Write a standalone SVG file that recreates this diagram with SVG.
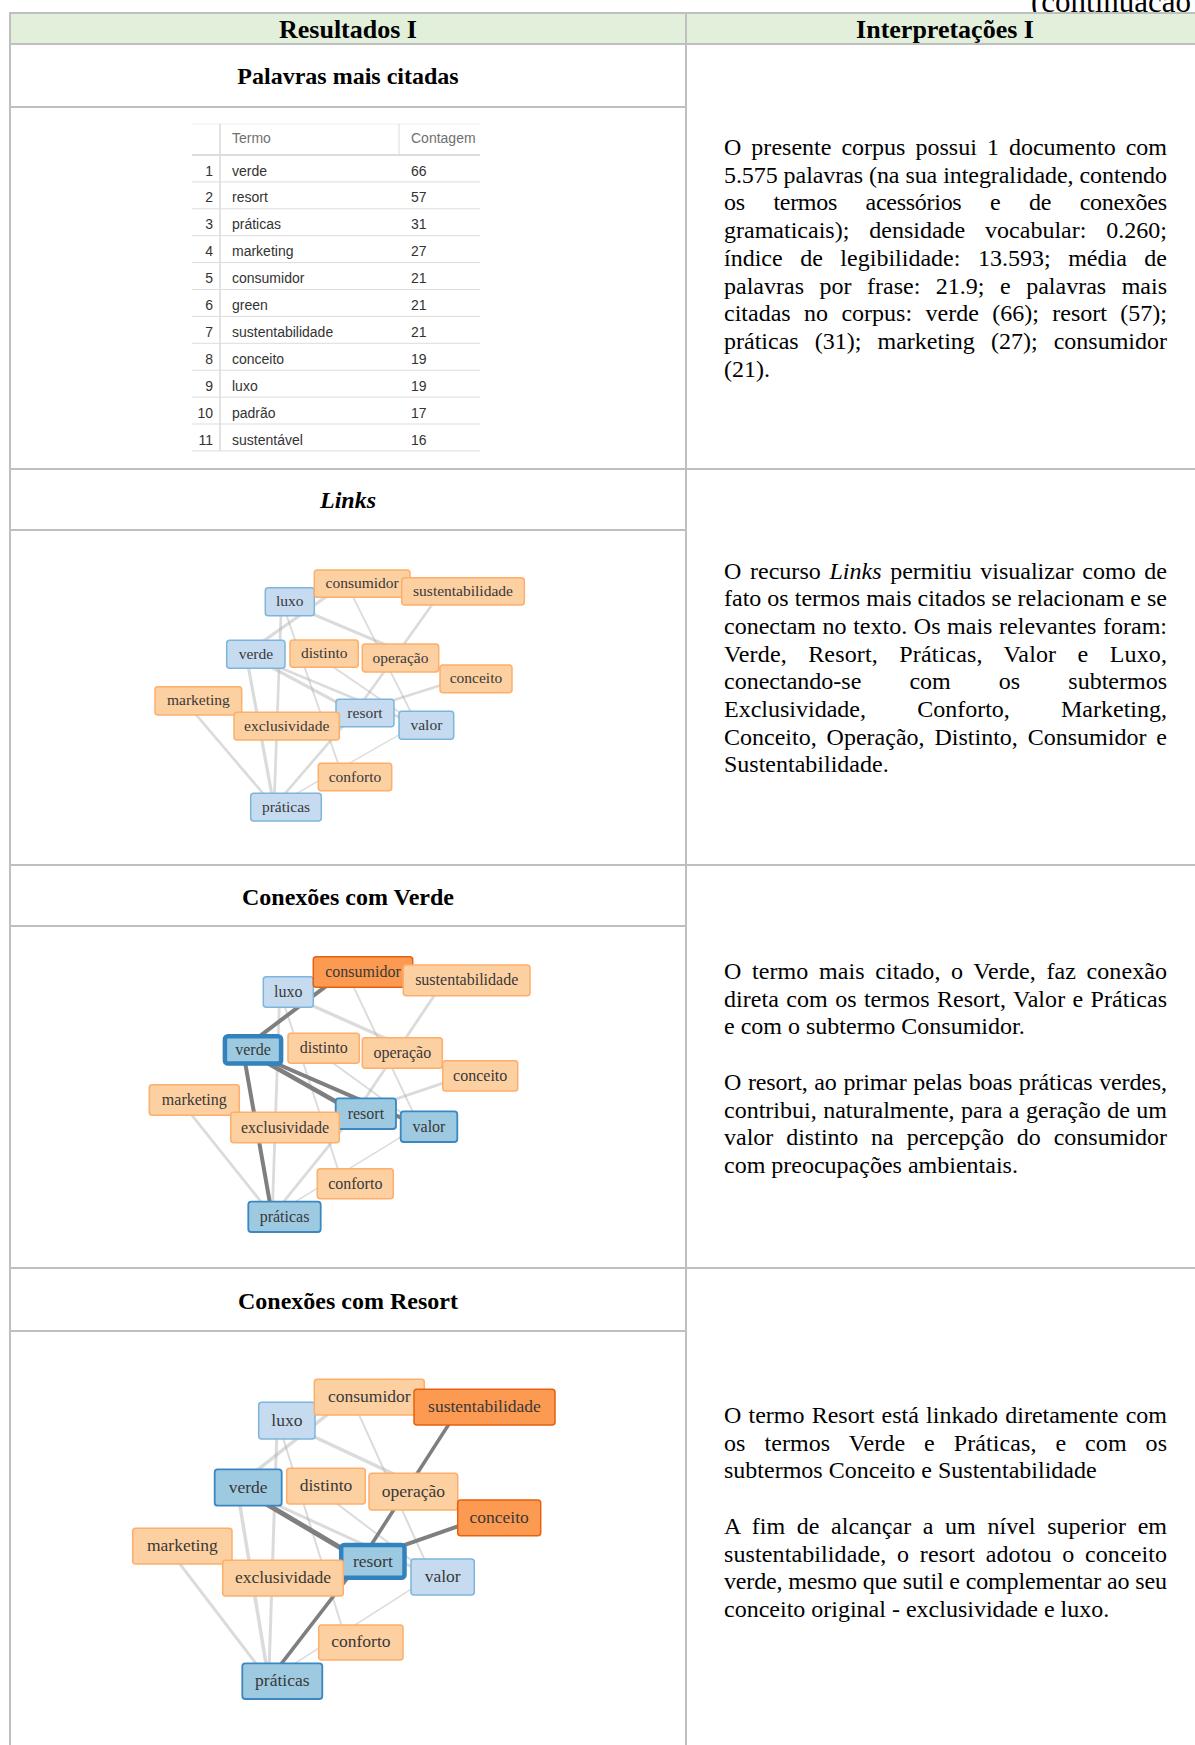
<svg xmlns="http://www.w3.org/2000/svg" width="1195" height="1745" viewBox="0 0 1195 1745">
<style>
.grid{stroke:#bfbfbf;stroke-width:2;fill:none}
.hdr{font-family:"Liberation Serif",serif;font-weight:bold;font-size:26px;text-anchor:middle;fill:#000}
.ttl{font-family:"Liberation Serif",serif;font-weight:bold;font-size:24px;text-anchor:middle;fill:#000}
.para{font-family:"Liberation Serif",serif;font-size:24px;fill:#000}
.tb{font-family:"Liberation Sans",Arial,sans-serif;font-size:14px;fill:#333}
.tbh{font-family:"Liberation Sans",Arial,sans-serif;font-size:14px;fill:#707070}
.tbl{stroke:#dcdcdc;stroke-width:1}
.nd text{font-family:"Liberation Serif",serif;fill:#383838;text-anchor:middle}
.g1 .nd text{font-size:15.5px}
.g2 .nd text{font-size:16px}
.g3 .nd text{font-size:17.5px}
.lb rect{fill:#c6dbef;stroke:#7db6dc;stroke-width:1.5}
.lo rect{fill:#fdd0a2;stroke:#fdae6b;stroke-width:1.5}
.db rect{fill:#9ecae1;stroke:#3a87c2;stroke-width:1.8}
.sel rect{fill:#9ecae1;stroke:#3182bd;stroke-width:4.5}
.do rect{fill:#fd9a52;stroke:#e6600f;stroke-width:1.5}
.el{stroke:#b0b0b0;stroke-opacity:0.45;fill:none;stroke-linecap:round}
.ed{stroke:#7f7f7f;fill:none;stroke-linecap:round}
</style>

<!-- caption -->
<text x="1031" y="12" font-family="Liberation Serif, serif" font-size="31" fill="#000">(continuação)</text>

<!-- table frame -->
<g id="table-frame">
<rect x="10" y="13" width="1194" height="31" fill="#e2efda"/>
<line class="grid" x1="9" y1="13" x2="1205" y2="13"/>
<line class="grid" x1="9" y1="44" x2="1205" y2="44"/>
<line class="grid" x1="10" y1="12" x2="10" y2="1745"/>
<line class="grid" x1="686" y1="12" x2="686" y2="1745"/>
<line class="grid" x1="1204" y1="12" x2="1204" y2="1745"/>
<line class="grid" x1="10" y1="107" x2="686" y2="107"/>
<line class="grid" x1="10" y1="469" x2="1205" y2="469"/>
<line class="grid" x1="10" y1="530" x2="686" y2="530"/>
<line class="grid" x1="10" y1="865" x2="1205" y2="865"/>
<line class="grid" x1="10" y1="926" x2="686" y2="926"/>
<line class="grid" x1="10" y1="1268" x2="1205" y2="1268"/>
<line class="grid" x1="10" y1="1331" x2="686" y2="1331"/>
</g>

<g id="headers">
<text class="hdr" x="348" y="38">Resultados I</text>
<text class="hdr" x="945" y="38">Interpretações I</text>
</g>

<g id="titles">
<text class="ttl" x="348" y="84">Palavras mais citadas</text>
<text class="ttl" x="348" y="508" font-style="italic">Links</text>
<text class="ttl" x="348" y="905">Conexões com Verde</text>
<text class="ttl" x="348" y="1309">Conexões com Resort</text>
</g>

<!-- word frequency table -->
<g id="freq-table">
<line x1="192" y1="124" x2="480" y2="124" stroke="#efefef" stroke-width="1"/>
<line x1="220" y1="124" x2="220" y2="451" stroke="#e3e3e3" stroke-width="2"/>
<line x1="399" y1="124" x2="399" y2="155" stroke="#dcdcdc" stroke-width="1"/>
<line x1="192" y1="155" x2="480" y2="155" stroke="#dcdcdc" stroke-width="2"/>
<text class="tbh" x="232" y="143">Termo</text>
<text class="tbh" x="411" y="143">Contagem</text>
<g class="tbl">
<line x1="192" y1="181.9" x2="480" y2="181.9"/>
<line x1="192" y1="208.8" x2="480" y2="208.8"/>
<line x1="192" y1="235.7" x2="480" y2="235.7"/>
<line x1="192" y1="262.6" x2="480" y2="262.6"/>
<line x1="192" y1="289.5" x2="480" y2="289.5"/>
<line x1="192" y1="316.4" x2="480" y2="316.4"/>
<line x1="192" y1="343.3" x2="480" y2="343.3"/>
<line x1="192" y1="370.2" x2="480" y2="370.2"/>
<line x1="192" y1="397.1" x2="480" y2="397.1"/>
<line x1="192" y1="424" x2="480" y2="424"/>
<line x1="192" y1="450.9" x2="480" y2="450.9"/>
</g>
<g class="tb" text-anchor="end">
<text x="213" y="175.5">1</text>
<text x="213" y="202.4">2</text>
<text x="213" y="229.3">3</text>
<text x="213" y="256.2">4</text>
<text x="213" y="283.1">5</text>
<text x="213" y="310">6</text>
<text x="213" y="336.9">7</text>
<text x="213" y="363.8">8</text>
<text x="213" y="390.7">9</text>
<text x="213" y="417.6">10</text>
<text x="213" y="444.5">11</text>
</g>
<g class="tb">
<text x="232" y="175.5">verde</text>
<text x="232" y="202.4">resort</text>
<text x="232" y="229.3">práticas</text>
<text x="232" y="256.2">marketing</text>
<text x="232" y="283.1">consumidor</text>
<text x="232" y="310">green</text>
<text x="232" y="336.9">sustentabilidade</text>
<text x="232" y="363.8">conceito</text>
<text x="232" y="390.7">luxo</text>
<text x="232" y="417.6">padrão</text>
<text x="232" y="444.5">sustentável</text>
<text x="411" y="175.5">66</text>
<text x="411" y="202.4">57</text>
<text x="411" y="229.3">31</text>
<text x="411" y="256.2">27</text>
<text x="411" y="283.1">21</text>
<text x="411" y="310">21</text>
<text x="411" y="336.9">21</text>
<text x="411" y="363.8">19</text>
<text x="411" y="390.7">19</text>
<text x="411" y="417.6">17</text>
<text x="411" y="444.5">16</text>
</g>
</g>

<!-- interpretation texts -->
<g id="interp-1" class="para">
<text x="724" y="155" textLength="443" lengthAdjust="spacing" word-spacing="4">O presente corpus possui 1 documento com</text>
<text x="724" y="182.7" textLength="443" lengthAdjust="spacing">5.575 palavras (na sua integralidade, contendo</text>
<text x="724" y="210.4" textLength="443" lengthAdjust="spacing" word-spacing="22.9">os termos acessórios e de conexões</text>
<text x="724" y="238.1" textLength="443" lengthAdjust="spacing" word-spacing="13.9">gramaticais); densidade vocabular: 0.260;</text>
<text x="724" y="265.8" textLength="443" lengthAdjust="spacing" word-spacing="11.5">índice de legibilidade: 13.593; média de</text>
<text x="724" y="293.5" textLength="443" lengthAdjust="spacing" word-spacing="9.5">palavras por frase: 21.9; e palavras mais</text>
<text x="724" y="321.2" textLength="443" lengthAdjust="spacing" word-spacing="7.4">citadas no corpus: verde (66); resort (57);</text>
<text x="724" y="348.9" textLength="443" lengthAdjust="spacing" word-spacing="10.1">práticas (31); marketing (27); consumidor</text>
<text x="724" y="376.6">(21).</text>
</g>

<g id="interp-2" class="para">
<text x="724" y="578.5" textLength="443" lengthAdjust="spacing" word-spacing="2.7">O recurso <tspan font-style="italic">Links</tspan> permitiu visualizar como de</text>
<text x="724" y="606.2" textLength="443" lengthAdjust="spacing">fato os termos mais citados se relacionam e se</text>
<text x="724" y="633.9" textLength="443" lengthAdjust="spacing" word-spacing="0.6">conectam no texto. Os mais relevantes foram:</text>
<text x="724" y="661.6" textLength="443" lengthAdjust="spacing" word-spacing="15.2">Verde, Resort, Práticas, Valor e Luxo,</text>
<text x="724" y="689.3" textLength="443" lengthAdjust="spacing" word-spacing="42.1">conectando-se com os subtermos</text>
<text x="724" y="717" textLength="443" lengthAdjust="spacing" word-spacing="45.2">Exclusividade, Conforto, Marketing,</text>
<text x="724" y="744.7" textLength="443" lengthAdjust="spacing" word-spacing="3.9">Conceito, Operação, Distinto, Consumidor e</text>
<text x="724" y="772.4">Sustentabilidade.</text>
</g>

<g id="interp-3" class="para">
<text x="724" y="979" textLength="443" lengthAdjust="spacing" word-spacing="4.5">O termo mais citado, o Verde, faz conexão</text>
<text x="724" y="1006.7" textLength="443" lengthAdjust="spacing" word-spacing="1.2">direta com os termos Resort, Valor e Práticas</text>
<text x="724" y="1034.4">e com o subtermo Consumidor.</text>
<text x="724" y="1089.8" textLength="443" lengthAdjust="spacing" word-spacing="0.8">O resort, ao primar pelas boas práticas verdes,</text>
<text x="724" y="1117.5" textLength="443" lengthAdjust="spacing" word-spacing="0.5">contribui, naturalmente, para a geração de um</text>
<text x="724" y="1145.2" textLength="443" lengthAdjust="spacing" word-spacing="6.9">valor distinto na percepção do consumidor</text>
<text x="724" y="1172.9">com preocupações ambientais.</text>
</g>

<g id="interp-4" class="para">
<text x="724" y="1423" textLength="443" lengthAdjust="spacing" word-spacing="1.2">O termo Resort está linkado diretamente com</text>
<text x="724" y="1450.7" textLength="443" lengthAdjust="spacing" word-spacing="12.8">os termos Verde e Práticas, e com os</text>
<text x="724" y="1478.4">subtermos Conceito e Sustentabilidade</text>
<text x="724" y="1533.8" textLength="443" lengthAdjust="spacing" word-spacing="5.6">A fim de alcançar a um nível superior em</text>
<text x="724" y="1561.5" textLength="443" lengthAdjust="spacing" word-spacing="4.5">sustentabilidade, o resort adotou o conceito</text>
<text x="724" y="1589.2" textLength="443" lengthAdjust="spacing">verde, mesmo que sutil e complementar ao seu</text>
<text x="724" y="1616.9">conceito original - exclusividade e luxo.</text>
</g>

<!-- ===== Graph 1: Links ===== -->
<g id="graph-links" class="g1">
<g id="g1-connectors">
<path class="el" stroke-width="3.2" d="M245.9 653.5L345.9 582.8"/>
<path class="el" stroke-width="3.2" d="M281.5 600.9L463.8 678"/>
<path class="el" stroke-width="1.8" d="M345.9 582.8L417.1 724.5"/>
<path class="el" stroke-width="2.7" d="M442.2 590.5L355.1 712.2"/>
<path class="el" stroke-width="2.7" d="M355.1 712.2L463.8 678"/>
<path class="el" stroke-width="3.2" d="M245.9 653.5L355.1 712.2"/>
<path class="el" stroke-width="2.7" d="M245.9 653.5L417.1 724.5"/>
<path class="el" stroke-width="1.8" d="M312.5 652.8L417.1 724.5"/>
<path class="el" stroke-width="1.8" d="M281.5 600.9L342.5 776.2"/>
<path class="el" stroke-width="2.7" d="M281.5 600.9L274 806.3"/>
<path class="el" stroke-width="3.2" d="M245.9 653.5L274 806.3"/>
<path class="el" stroke-width="2.7" d="M183.6 700L274 806.3"/>
<path class="el" stroke-width="2.7" d="M355.1 712.2L274 806.3"/>
<path class="el" stroke-width="1.4" d="M417.1 724.5L274 806.3"/>
</g>
<g id="g1-luxo" class="nd lb"><rect x="265.3" y="587.7" width="49" height="28" rx="3"/><text x="289.8" y="606.4">luxo</text></g>
<g id="g1-consumidor" class="nd lo"><rect x="314.3" y="570" width="95.7" height="27.3" rx="3"/><text x="362.2" y="588.2">consumidor</text></g>
<g id="g1-sustentabilidade" class="nd lo"><rect x="401.7" y="577.7" width="122.6" height="27.3" rx="3"/><text x="463" y="595.8">sustentabilidade</text></g>
<g id="g1-verde" class="nd lb"><rect x="226.7" y="640.3" width="58.3" height="28" rx="3"/><text x="255.9" y="658.8">verde</text></g>
<g id="g1-distinto" class="nd lo"><rect x="290" y="640" width="68.3" height="27.3" rx="3"/><text x="324.2" y="658.2">distinto</text></g>
<g id="g1-operacao" class="nd lo"><rect x="362.3" y="644" width="76.4" height="28" rx="3"/><text x="400.5" y="662.5">operação</text></g>
<g id="g1-conceito" class="nd lo"><rect x="440" y="665" width="72" height="27.7" rx="3"/><text x="476" y="683.4">conceito</text></g>
<g id="g1-resort" class="nd lb"><rect x="336" y="699.3" width="58" height="27.4" rx="3"/><text x="365" y="717.5">resort</text></g>
<g id="g1-marketing" class="nd lo"><rect x="155" y="686.7" width="86.7" height="28.3" rx="3"/><text x="198.4" y="705.4">marketing</text></g>
<g id="g1-exclusividade" class="nd lo"><rect x="234" y="712.3" width="105.3" height="27.7" rx="3"/><text x="286.7" y="730.7">exclusividade</text></g>
<g id="g1-valor" class="nd lb"><rect x="399" y="711.3" width="54.7" height="28" rx="3"/><text x="426.4" y="729.8">valor</text></g>
<g id="g1-conforto" class="nd lo"><rect x="318.3" y="763.3" width="73.4" height="27.4" rx="3"/><text x="355" y="781.5">conforto</text></g>
<g id="g1-praticas" class="nd lb"><rect x="250.7" y="793.3" width="70.6" height="27.7" rx="3"/><text x="286" y="811.7">práticas</text></g>
</g>

<!-- ===== Graph 2: Conexões com Verde ===== -->
<g id="graph-verde" class="g2">
<g id="g2-connectors">
<path class="el" stroke-width="3.3" d="M279.8 991.1L467.5 1074.9"/>
<path class="el" stroke-width="1.9" d="M346.1 971.1L419.4 1125.7"/>
<path class="el" stroke-width="2.8" d="M445.1 979.4L355.6 1112.7"/>
<path class="el" stroke-width="2.8" d="M355.6 1112.7L467.5 1074.9"/>
<path class="el" stroke-width="1.9" d="M311.5 1047.4L419.4 1125.7"/>
<path class="el" stroke-width="1.9" d="M279.8 991.1L342.4 1182.8"/>
<path class="el" stroke-width="2.8" d="M279.8 991.1L272.2 1215.9"/>
<path class="el" stroke-width="2.8" d="M179 1099.1L272.2 1215.9"/>
<path class="el" stroke-width="2.8" d="M355.6 1112.7L272.2 1215.9"/>
<path class="el" stroke-width="1.5" d="M419.4 1125.7L272.2 1215.9"/>
<path class="ed" stroke-width="4" d="M242.7 1048.9L346.1 971.1"/>
<path class="ed" stroke-width="4.6" d="M242.7 1048.9L355.6 1112.7"/>
<path class="ed" stroke-width="4" d="M242.7 1048.9L419.4 1125.7"/>
<path class="ed" stroke-width="4" d="M242.7 1048.9L272.2 1215.9"/>
</g>
<g id="g2-luxo" class="nd lb"><rect x="263.3" y="976.7" width="50" height="30.6" rx="3"/><text x="288.3" y="997">luxo</text></g>
<g id="g2-consumidor" class="nd do"><rect x="313.3" y="956.7" width="99.4" height="30.6" rx="3"/><text x="363" y="977">consumidor</text></g>
<g id="g2-sustentabilidade" class="nd lo"><rect x="403.3" y="965" width="126.7" height="30.7" rx="3"/><text x="466.7" y="985.4">sustentabilidade</text></g>
<g id="g2-verde" class="nd sel"><rect x="224.9" y="1036.2" width="56.2" height="27.3" rx="3"/><text x="253" y="1054.9">verde</text></g>
<g id="g2-distinto" class="nd lo"><rect x="288" y="1033.3" width="71.3" height="30" rx="3"/><text x="323.7" y="1053.3">distinto</text></g>
<g id="g2-operacao" class="nd lo"><rect x="362.3" y="1037.7" width="80" height="30.6" rx="3"/><text x="402.3" y="1058">operação</text></g>
<g id="g2-conceito" class="nd lo"><rect x="442.7" y="1060.7" width="75" height="30.3" rx="3"/><text x="480.2" y="1080.9">conceito</text></g>
<g id="g2-resort" class="nd db"><rect x="335.7" y="1098.3" width="60.3" height="30.7" rx="3"/><text x="365.9" y="1118.7">resort</text></g>
<g id="g2-marketing" class="nd lo"><rect x="149.3" y="1084.7" width="90" height="30.6" rx="3"/><text x="194.3" y="1105">marketing</text></g>
<g id="g2-exclusividade" class="nd lo"><rect x="230.7" y="1112.3" width="108.6" height="30.4" rx="3"/><text x="285" y="1132.5">exclusividade</text></g>
<g id="g2-valor" class="nd db"><rect x="400.7" y="1111.3" width="56.6" height="30.7" rx="3"/><text x="429" y="1131.7">valor</text></g>
<g id="g2-conforto" class="nd lo"><rect x="317.3" y="1168.7" width="76" height="30" rx="3"/><text x="355.3" y="1188.7">conforto</text></g>
<g id="g2-praticas" class="nd db"><rect x="248.3" y="1201.7" width="72.4" height="30.3" rx="3"/><text x="284.5" y="1221.9">práticas</text></g>
</g>

<!-- ===== Graph 3: Conexões com Resort ===== -->
<g id="graph-resort" class="g3">
<g id="g3-connectors">
<path class="el" stroke-width="3.5" d="M236.8 1486.4L350.6 1396.1"/>
<path class="el" stroke-width="3.5" d="M277.3 1419.5L485.1 1516.8"/>
<path class="el" stroke-width="2" d="M350.6 1396.1L431.9 1575.9"/>
<path class="el" stroke-width="3" d="M236.8 1486.4L431.9 1575.9"/>
<path class="el" stroke-width="2" d="M312.6 1485.1L431.9 1575.9"/>
<path class="el" stroke-width="2" d="M277.3 1419.5L346.5 1641.5"/>
<path class="el" stroke-width="3" d="M277.3 1419.5L268.7 1680.1"/>
<path class="el" stroke-width="3.5" d="M236.8 1486.4L268.7 1680.1"/>
<path class="el" stroke-width="3" d="M165.5 1545.1L268.7 1680.1"/>
<path class="el" stroke-width="1.6" d="M431.9 1575.9L268.7 1680.1"/>
<path class="ed" stroke-width="5" d="M236.8 1486.4L361.3 1560.2"/>
<path class="ed" stroke-width="3.6" d="M361.3 1560.2L268.7 1680.1"/>
<path class="ed" stroke-width="3.6" d="M460.5 1406.1L361.3 1560.2"/>
<path class="ed" stroke-width="4" d="M485.1 1516.8L361.3 1560.2"/>
</g>
<g id="g3-luxo" class="nd lb"><rect x="258.7" y="1402.3" width="56.3" height="36.7" rx="3"/><text x="286.9" y="1425.6">luxo</text></g>
<g id="g3-consumidor" class="nd lo"><rect x="314.3" y="1379.3" width="110" height="35.7" rx="3"/><text x="369.3" y="1402">consumidor</text></g>
<g id="g3-sustentabilidade" class="nd do"><rect x="414" y="1389.3" width="141" height="35.7" rx="3"/><text x="484.5" y="1412">sustentabilidade</text></g>
<g id="g3-verde" class="nd db"><rect x="214.7" y="1469.3" width="67" height="36.4" rx="3"/><text x="248.2" y="1492.5">verde</text></g>
<g id="g3-distinto" class="nd lo"><rect x="286.7" y="1468.3" width="78.6" height="35.7" rx="3"/><text x="326" y="1491">distinto</text></g>
<g id="g3-operacao" class="nd lo"><rect x="369" y="1473.3" width="88.7" height="36.7" rx="3"/><text x="413.4" y="1496.6">operação</text></g>
<g id="g3-conceito" class="nd do"><rect x="457.7" y="1500" width="83" height="35.7" rx="3"/><text x="499.2" y="1522.8">conceito</text></g>
<g id="g3-resort" class="nd sel"><rect x="341.2" y="1544.9" width="63.3" height="32.9" rx="3"/><text x="372.9" y="1566.5">resort</text></g>
<g id="g3-marketing" class="nd lo"><rect x="132.7" y="1528.3" width="99.3" height="35.7" rx="3"/><text x="182.4" y="1551">marketing</text></g>
<g id="g3-exclusividade" class="nd lo"><rect x="222.7" y="1560.3" width="120.6" height="35.7" rx="3"/><text x="283" y="1583">exclusividade</text></g>
<g id="g3-valor" class="nd lb"><rect x="411" y="1559" width="63.3" height="36" rx="3"/><text x="442.7" y="1581.9">valor</text></g>
<g id="g3-conforto" class="nd lo"><rect x="318.7" y="1625" width="84.3" height="35" rx="3"/><text x="360.9" y="1647.4">conforto</text></g>
<g id="g3-praticas" class="nd db"><rect x="242.3" y="1663.3" width="80" height="35.7" rx="3"/><text x="282.3" y="1686">práticas</text></g>
</g>
</svg>
